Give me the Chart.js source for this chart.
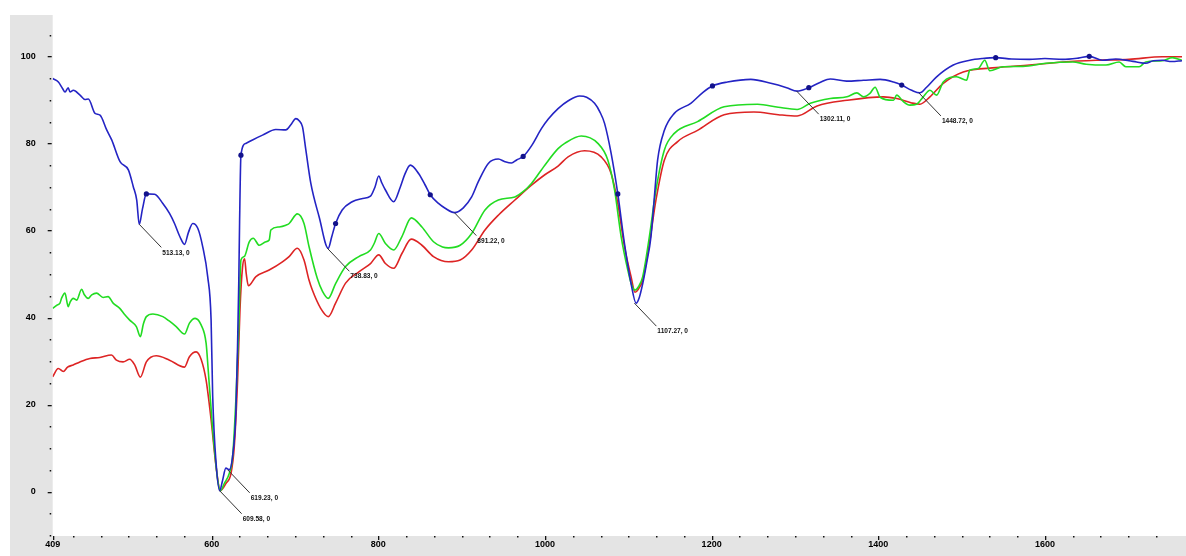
<!DOCTYPE html>
<html>
<head>
<meta charset="utf-8">
<script src="https://cdn.jsdelivr.net/npm/chart.js@4.4.1/dist/chart.umd.min.js"></script>
<style>
  html, body { margin: 0; padding: 0; background: #fff; }
  canvas { display: block; }
</style>
</head>
<body>
<canvas id="spectrum" width="1186" height="556"></canvas>
<script>
// --- DATA (wavenumber, cm-1 / transmittance, %) ---
const xMin = 409.2;
const xMax = 1764.5;
const yMin = -10.2;
const yMax = 109.5;

const blueX = [
  409.2, 416, 421, 424, 427.8, 430, 434, 442, 448, 452,
  460, 466, 474, 480, 490, 500, 506, 510, 513.1, 517,
  521.6, 531.5, 541.4, 549.4, 555.4, 562, 567.4, 572, 577.3, 583.3,
  589.2, 595.2, 599.3, 601.2, 605.3, 609.6, 613, 617, 621, 625,
  629, 631, 632.5, 633.5, 635.1, 641, 649, 661, 677, 689,
  695, 701, 705, 709, 713, 719, 729, 739.9, 744, 748.7,
  756.6, 768.6, 780, 790.6, 796, 800.5, 804, 808.5, 818.4, 826.4,
  832, 838.4, 848.3, 856, 862.3, 872.2, 880.2, 891.4, 902, 912,
  920, 932, 944, 952, 959.8, 966, 973.8, 984, 995.7, 1004,
  1015.7, 1028, 1041.6, 1050, 1059.5, 1066, 1071.5, 1079.4, 1087.4, 1095.4,
  1103.3, 1109.3, 1113, 1117.3, 1122, 1127.2, 1131, 1135.2, 1143.3, 1155.2,
  1175, 1190, 1201, 1219, 1247, 1271, 1290, 1302.6, 1316.6, 1330,
  1342.4, 1362, 1382.3, 1402.2, 1418.2, 1428.1, 1440.1, 1450, 1458, 1470,
  1490, 1509.8, 1525, 1540.9, 1560, 1581.5, 1600, 1621.4, 1640, 1653.2,
  1669.2, 1685, 1701, 1710, 1721, 1730, 1741, 1752, 1764.5
];
const blueY = [
  94.9, 94.1, 92.6, 91.8, 92.8, 91.8, 92.2, 91.1, 90.1, 90.2,
  86.9, 86.5, 83.1, 80.8, 75.8, 73.9, 70.0, 67.0, 61.4, 65.0,
  68.4, 68.3, 66.2, 63.9, 61.6, 58.5, 56.8, 59.5, 61.6, 60.5,
  56.3, 49.4, 39.4, 22.0, 6.5, 0.2, 2.5, 5.4, 5.0, 8.0,
  18.0, 33.0, 48.0, 62.0, 77.3, 80.0, 80.8, 81.9, 83.2, 83.1,
  84.3, 85.7, 85.2, 83.8, 78.5, 70.8, 63.1, 55.9, 58.5, 61.6,
  64.7, 66.6, 67.3, 67.9, 70.0, 72.5, 71.0, 69.3, 66.6, 70.0,
  73.0, 75.0, 73.1, 70.5, 68.2, 66.2, 65.1, 64.1, 65.2, 67.7,
  71.2, 75.4, 76.4, 75.8, 75.5, 76.2, 77.0, 79.5, 83.4, 85.6,
  88.0, 89.8, 90.9, 90.6, 89.2, 87.2, 84.6, 77.7, 68.4, 57.0,
  47.8, 43.3, 44.5, 47.8, 52.5, 58.6, 67.0, 76.2, 83.0, 86.9,
  89.2, 91.8, 93.2, 94.1, 94.7, 93.8, 92.8, 92.0, 92.8, 94.0,
  94.8, 94.3, 94.5, 94.7, 94.1, 93.4, 92.2, 91.6, 92.9, 95.3,
  98.0, 99.1, 99.5, 99.7, 99.4, 99.3, 99.5, 99.3, 99.6, 100.0,
  99.1, 99.4, 99.0, 98.7, 98.4, 99.0, 99.1, 98.8, 99.0
];

const greenX = [
  409.2, 414, 417.9, 420, 423.9, 427.8, 430, 433.8, 437.9, 443.9,
  447, 451.8, 456, 461.8, 469.7, 475.7, 481.7, 489.7, 495, 501.6,
  509.6, 514.4, 518, 521.6, 529.5, 541.4, 549, 557.4, 567.4, 573.3,
  580.1, 587.3, 593.3, 596, 601.2, 607.2, 610.4, 615.2, 621.2, 625.1,
  629.2, 632.4, 635.1, 639.1, 645.1, 649.9, 657.1, 665.1, 669, 671,
  681, 689, 693, 702.8, 710.8, 716.8, 726.7, 733, 739.9, 748.7,
  760.7, 776.6, 790.6, 795, 800.5, 808.5, 818.4, 828.3, 839.6, 852.3,
  866.2, 877, 884.2, 898.2, 912, 928, 944, 963.9, 973, 983.8,
  999.8, 1015.7, 1023.7, 1043.5, 1063.5, 1075.4, 1083.5, 1091.4, 1099.4, 1104,
  1108.1, 1112, 1117.3, 1125.3, 1133.2, 1143.3, 1155.2, 1183.1, 1215, 1255.2,
  1280, 1302.6, 1318.5, 1342.4, 1362.4, 1374.3, 1382.3, 1390, 1396.2, 1402.2,
  1418.2, 1422.1, 1430.1, 1438, 1446, 1454, 1462, 1470, 1478, 1493.9,
  1505.9, 1509.8, 1520, 1527.8, 1533.8, 1549.7, 1573.6, 1601.5, 1633.4, 1649.4,
  1673.3, 1689.1, 1697.1, 1713, 1721, 1741, 1752.9, 1764.5
];
const greenY = [
  42.1, 42.8, 43.3, 44.5, 45.6, 42.5, 43.5, 44.4, 44.0, 46.5,
  45.3, 44.4, 45.2, 45.6, 44.6, 44.8, 43.3, 42.1, 40.8, 39.4,
  37.9, 35.6, 38.5, 40.2, 40.8, 40.2, 39.2, 37.9, 36.2, 38.7,
  39.8, 38.3, 34.1, 27.5, 14.2, 2.7, 0.2, 1.9, 4.2, 8.0,
  21.8, 37.1, 53.2, 54.0, 57.4, 58.2, 56.6, 57.4, 57.8, 60.1,
  60.8, 61.2, 61.6, 63.8, 61.6, 56.3, 49.0, 46.0, 44.4, 47.8,
  51.7, 54.0, 55.5, 57.0, 59.3, 57.0, 55.5, 58.6, 62.9, 60.8,
  57.4, 56.2, 56.0, 56.6, 59.3, 64.7, 67.0, 67.7, 68.8, 70.8,
  75.0, 78.8, 80.0, 81.7, 80.0, 76.2, 69.3, 58.6, 50.9, 47.5,
  46.3, 47.0, 49.4, 58.6, 69.3, 78.5, 82.3, 85.0, 88.4, 89.0,
  88.3, 87.8, 89.2, 90.3, 90.7, 91.6, 90.7, 91.5, 92.9, 90.6,
  89.9, 91.1, 89.6, 88.8, 89.0, 90.7, 92.2, 91.1, 94.1, 95.3,
  94.5, 96.8, 97.2, 99.1, 96.7, 97.6, 97.7, 98.4, 98.7, 98.2,
  98.0, 98.7, 97.6, 97.6, 98.7, 99.0, 99.7, 99.1
];

const redX = [
  409.2, 415.9, 421.9, 427, 433.8, 441.8, 453.8, 465.8, 479.7, 485.7,
  493.6, 501.6, 507.6, 514.4, 521.6, 533.5, 549.4, 567.4, 573.3, 581.4,
  587.3, 593.3, 599.3, 605.3, 610.4, 617.2, 623.2, 627.1, 631.1, 634,
  637, 639.5, 641.5, 644, 653.1, 669, 684.9, 692.9, 702.8, 710.8,
  716.8, 720.8, 730.8, 739.9, 748.7, 760.7, 776.6, 790.6, 800.5, 808.5,
  818.4, 828.3, 839.6, 852.3, 866.2, 884.2, 898.2, 912, 928, 944,
  963.9, 983.8, 999.8, 1015.7, 1027.7, 1047.6, 1067.4, 1079.4, 1087.4, 1095.4,
  1103.3, 1108.1, 1112, 1117.3, 1125.3, 1133.2, 1143.3, 1159.2, 1183.1, 1215,
  1250.8, 1280, 1302.6, 1326.5, 1362.4, 1406.2, 1422.1, 1440.1, 1450, 1462,
  1478, 1501.9, 1541.8, 1581.5, 1621.4, 1661.3, 1701, 1741, 1764.5
];
const redY = [
  26.4, 28.3, 27.6, 28.6, 29.1, 29.8, 30.6, 30.8, 31.4, 30.2,
  29.8, 30.4, 29.1, 26.3, 29.8, 31.2, 30.2, 28.6, 31.0, 32.1,
  30.4, 25.6, 16.5, 5.7, 0.2, 1.9, 4.2, 10.3, 25.6, 42.0,
  51.5, 53.5, 50.0, 47.3, 49.4, 50.9, 52.8, 54.0, 55.9, 53.2,
  48.6, 46.3, 42.1, 40.2, 43.3, 47.9, 50.5, 52.4, 54.4, 52.4,
  51.3, 54.7, 58.0, 56.6, 54.0, 52.8, 53.2, 55.5, 60.1, 63.5,
  67.0, 70.4, 72.8, 74.8, 76.9, 78.3, 76.9, 73.1, 66.2, 56.3,
  49.4, 45.8, 46.5, 48.6, 57.0, 67.0, 76.2, 80.4, 83.0, 86.6,
  87.2, 86.6, 86.3, 88.6, 89.9, 90.7, 90.3, 89.3, 89.0, 90.7,
  93.8, 96.4, 97.4, 98.0, 98.7, 99.1, 99.3, 99.9, 99.9
];

// marked points on the blue trace
const markX = [521.6, 635.1, 748.7, 862.3, 973.8, 1087.4, 1201, 1316.6, 1428.1, 1540.9, 1653.2];
const markY = [68.4, 77.3, 61.6, 68.2, 77.0, 68.4, 93.2, 92.8, 93.4, 99.7, 100.0];

// peak labels
const peakX = [513.13, 609.58, 619.23, 738.83, 891.22, 1107.27, 1302.11, 1448.72];
const peakY = [61.4, 0.2, 5.0, 55.9, 64.1, 43.3, 92.0, 91.6];
const peakText = ['513.13, 0', '609.58, 0', '619.23, 0', '738.83, 0', '891.22, 0', '1107.27, 0', '1302.11, 0', '1448.72, 0'];

const FONT = '"Liberation Sans Narrow", "Liberation Sans", sans-serif';

function toPoints(xs, ys) {
    return xs.map((x, i) => ({ x: x, y: ys[i] }));
}

function isMajorX(v) {
    const k = (v - 600) / 200;
    return Math.abs(k - Math.round(k)) < 1e-6;
}

// --- DECORATION: gray frame, tick marks, peak labels ---
const decor = {
    id: 'decor',
    beforeDraw(chart) {
        const { ctx, chartArea: a, width, height } = chart;
        ctx.save();
        ctx.fillStyle = '#ffffff';
        ctx.fillRect(0, 0, width, height);
        ctx.fillStyle = '#e4e4e4';
        ctx.fillRect(10, a.top, a.left - 10, height - a.top);
        ctx.fillRect(10, a.bottom, width - 10, height - a.bottom);
        ctx.restore();
    },
    afterDraw(chart) {
        const { ctx, chartArea: a } = chart;
        const xs = chart.scales.x, ys = chart.scales.y;
        ctx.save();
        ctx.fillStyle = '#111';
        ys.ticks.forEach(t => {
            const py = Math.round(ys.getPixelForValue(t.value));
            if (t.value % 20 === 0) ctx.fillRect(a.left - 5, py, 4, 1.3);
            else ctx.fillRect(a.left - 3, py, 1.5, 1.5);
        });
        xs.ticks.forEach(t => {
            const px = Math.round(xs.getPixelForValue(t.value));
            if (isMajorX(t.value) || t.value === xMin) ctx.fillRect(px, a.bottom, 1.3, 4);
            else ctx.fillRect(px, a.bottom, 1.5, 1.5);
        });

        // leader lines + labels
        ctx.strokeStyle = '#333';
        ctx.lineWidth = 1;
        ctx.font = 'bold 8px ' + FONT;
        ctx.textBaseline = 'middle';
        ctx.textAlign = 'left';
        ctx.fillStyle = '#111';
        peakX.forEach((v, i) => {
            const px = xs.getPixelForValue(v);
            const py = ys.getPixelForValue(peakY[i]);
            ctx.beginPath();
            ctx.moveTo(px, py);
            ctx.lineTo(px + 22, py + 23);
            ctx.stroke();
            ctx.save();
            ctx.translate(px + 23, py + 28);
            ctx.scale(0.82, 1);
            ctx.fillText(peakText[i], 0, 0);
            ctx.restore();
        });
        ctx.restore();
    }
};

// --- CHART ---
const ctx = document.getElementById('spectrum').getContext('2d');
new Chart(ctx, {
    type: 'line',
    data: {
        datasets: [
            {
                data: toPoints(markX, markY),
                showLine: false,
                pointRadius: 2.6,
                pointBackgroundColor: '#12128c',
                pointBorderWidth: 0
            },
            {
                data: toPoints(blueX, blueY),
                borderColor: '#2424c4',
                borderWidth: 1.6,
                pointRadius: 0,
                cubicInterpolationMode: 'monotone'
            },
            {
                data: toPoints(greenX, greenY),
                borderColor: '#22dc22',
                borderWidth: 1.6,
                pointRadius: 0,
                cubicInterpolationMode: 'monotone'
            },
            {
                data: toPoints(redX, redY),
                borderColor: '#dd2424',
                borderWidth: 1.6,
                pointRadius: 0,
                cubicInterpolationMode: 'monotone'
            }
        ]
    },
    options: {
        responsive: false,
        animation: false,
        devicePixelRatio: 1,
        layout: { padding: { top: 15, left: 10, right: 0, bottom: 0 } },
        plugins: { legend: { display: false }, tooltip: { enabled: false } },
        scales: {
            x: {
                type: 'linear',
                min: xMin,
                max: xMax,
                border: { display: false },
                grid: { display: false, drawTicks: false },
                afterBuildTicks(scale) {
                    const t = [{ value: xMin }];
                    for (let k = -5; k < 40; k++) {
                        const v = 600 + k * 200 / 6;
                        if (v > xMin + 5 && v < xMax) t.push({ value: v });
                    }
                    scale.ticks = t;
                },
                afterFit(scale) {
                    scale.height = 20;
                    scale.paddingLeft = 0;
                    scale.paddingRight = 0;
                },
                ticks: {
                    autoSkip: false,
                    maxRotation: 0,
                    padding: 3,
                    color: '#000',
                    font: { family: FONT, size: 9, weight: 'bold' },
                    callback: (v) => (v === xMin || isMajorX(v) ? String(Math.round(v)) : '')
                }
            },
            y: {
                type: 'linear',
                min: yMin,
                max: yMax,
                border: { display: false },
                grid: { display: false, drawTicks: false },
                afterBuildTicks(scale) {
                    const t = [];
                    for (let v = -10; v <= 105; v += 5) t.push({ value: v });
                    scale.ticks = t;
                },
                afterFit(scale) {
                    scale.width = 42.7;
                    scale.paddingTop = 0;
                    scale.paddingBottom = 0;
                },
                ticks: {
                    autoSkip: false,
                    padding: 17,
                    color: '#000',
                    font: { family: FONT, size: 9, weight: 'bold' },
                    callback: (v) => (v % 20 === 0 ? String(v) : '')
                }
            }
        }
    },
    plugins: [decor]
});
</script>
</body>
</html>
